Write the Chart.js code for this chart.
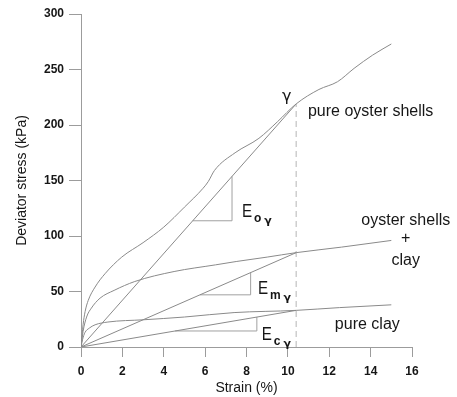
<!DOCTYPE html>
<html>
<head>
<meta charset="utf-8">
<script src="https://cdn.jsdelivr.net/npm/chart.js@4.4.0/dist/chart.umd.min.js"></script>
<style>
  html, body { margin: 0; padding: 0; background: #fff; }
</style>
</head>
<body>
<canvas id="stressChart" width="457" height="397"></canvas>
<script>
// strain (%) vs deviator stress (kPa) for the three samples
const oysterStrain = [0, 0.1, 0.2, 0.35, 0.68, 1.16, 1.97, 3, 4, 5, 5.9, 6.15, 6.45, 7.45, 8.6, 9.5, 10.4, 11.5, 12.4, 13.2, 14.1, 15];
const oysterStress = [0, 20, 32, 42, 54, 66, 81, 94, 108, 126, 143, 149, 159, 175, 188, 203, 219, 232, 239, 251, 263, 273];

const mixStrain = [0, 0.1, 0.27, 0.5, 0.92, 1.6, 2.6, 4.5, 6.5, 7.5, 9, 10.4, 12.6, 15];
const mixStress = [0, 14, 27, 35, 44, 51, 59, 68, 74, 77, 81, 85, 90, 96];

const clayStrain = [0, 0.08, 0.19, 0.4, 0.68, 1.3, 3, 5, 7.4, 10.4, 12.5, 15];
const clayStress = [0, 7, 13, 17, 20, 22.5, 24.5, 27, 31, 33, 35.5, 38];

// reference strain gamma and the stress each sample reaches there
const gammaStrain = 10.4;
const gammaStress = [219, 85, 33]; // oyster, mix, clay

// strain span of each slope triangle (oyster, mix, clay)
const triangleFrom = [5.4, 5.75, 4.55];
const triangleTo = [7.3, 8.2, 8.5];

const xTickStep = 2;
const yTickStep = 50;

const lineGrey = '#8a8a8a';
const axisGrey = '#9c9c9c';
const textColor = '#161616';
const fontFamily = '"Liberation Sans", Arial, sans-serif';
const greekFamily = '"DejaVu Sans", sans-serif';

function toPoints(xs, ys) {
    return xs.map((x, i) => ({ x: x, y: ys[i] }));
}

function curve(xs, ys) {
    return {
        data: toPoints(xs, ys),
        borderColor: lineGrey,
        borderWidth: 1,
        pointRadius: 0,
        cubicInterpolationMode: 'monotone',
        fill: false
    };
}

function straight(points, color, dash) {
    return {
        data: points,
        borderColor: color || lineGrey,
        borderWidth: 1,
        borderDash: dash || [],
        pointRadius: 0,
        tension: 0,
        fill: false
    };
}

const datasets = [
    curve(oysterStrain, oysterStress),
    curve(mixStrain, mixStress),
    curve(clayStrain, clayStress)
];

// secant lines from the origin to gamma, with their slope triangles
gammaStress.forEach((g, i) => {
    const slope = g / gammaStrain;
    datasets.push(straight([{ x: 0, y: 0 }, { x: gammaStrain, y: g }]));
    datasets.push(straight([
        { x: triangleFrom[i], y: slope * triangleFrom[i] },
        { x: triangleTo[i], y: slope * triangleFrom[i] },
        { x: triangleTo[i], y: slope * triangleTo[i] }
    ], '#a0a0a0'));
});

// dashed marker at gamma
datasets.push(straight([{ x: gammaStrain, y: 0 }, { x: gammaStrain, y: gammaStress[0] }], '#b5b5b5', [6, 4]));

// text notes placed in data units
const notes = [
    { text: 'γ', x: 9.95, y: 225, align: 'center', greek: true },
    { text: 'pure oyster shells', x: 10.97, y: 212, align: 'left' },
    { text: 'oyster shells', x: 15.7, y: 114, align: 'center' },
    { text: '+', x: 15.7, y: 98, align: 'center' },
    { text: 'clay', x: 15.7, y: 78, align: 'center' },
    { text: 'pure clay', x: 13.84, y: 20, align: 'center' }
];
const moduli = [
    { sub: 'o', x: 7.78, y: 123 },
    { sub: 'm', x: 8.55, y: 54 },
    { sub: 'c', x: 8.74, y: 12.6 }
];

const notesPlugin = {
    id: 'notes',
    afterDatasetsDraw(chart) {
        const ctx = chart.ctx;
        const xs = chart.scales.x;
        const ys = chart.scales.y;
        ctx.save();
        ctx.fillStyle = textColor;
        ctx.textBaseline = 'middle';
        notes.forEach(n => {
            ctx.font = n.greek ? '16px ' + greekFamily : '16px ' + fontFamily;
            ctx.textAlign = n.align;
            ctx.fillText(n.text, xs.getPixelForValue(n.x), ys.getPixelForValue(n.y));
        });

        moduli.forEach(m => {
            const px = xs.getPixelForValue(m.x);
            const py = ys.getPixelForValue(m.y);
            ctx.textAlign = 'left';
            ctx.textBaseline = 'alphabetic';
            ctx.save();
            ctx.translate(px, py + 7);
            ctx.scale(0.8, 1);
            ctx.font = '19px ' + fontFamily;
            ctx.fillText('E', 0, 0);
            ctx.restore();
            ctx.font = 'bold 12px ' + fontFamily;
            ctx.fillText(m.sub, px + 12, py + 12);
            const w = ctx.measureText(m.sub).width;
            ctx.font = 'bold 11px ' + greekFamily;
            ctx.fillText('γ', px + 15 + w, py + 14);
        });
        ctx.restore();
    }
};

new Chart(document.getElementById('stressChart'), {
    type: 'line',
    data: { datasets: datasets },
    options: {
        responsive: false,
        animation: false,
        layout: { padding: { top: 14, right: 45, left: 0, bottom: 0 } },
        plugins: {
            legend: { display: false },
            tooltip: { enabled: false }
        },
        scales: {
            x: {
                type: 'linear',
                min: 0,
                max: 16,
                afterFit: scale => { scale.height = 50; },
                ticks: {
                    stepSize: xTickStep,
                    padding: 7,
                    color: textColor,
                    font: { family: fontFamily, size: 12, weight: 'bold' }
                },
                grid: { drawOnChartArea: false, tickLength: 10, color: axisGrey },
                border: { color: axisGrey },
                title: {
                    display: true,
                    text: 'Strain (%)',
                    color: textColor,
                    padding: { top: 0, bottom: 0 },
                    font: { family: fontFamily, size: 14 }
                }
            },
            y: {
                min: 0,
                max: 300,
                afterFit: scale => { scale.width = 81; },
                ticks: {
                    stepSize: yTickStep,
                    padding: 5,
                    color: textColor,
                    font: { family: fontFamily, size: 12, weight: 'bold' }
                },
                grid: { drawOnChartArea: false, tickLength: 12, color: axisGrey },
                border: { color: axisGrey },
                title: {
                    display: true,
                    text: 'Deviator stress (kPa)',
                    color: textColor,
                    padding: { top: 14, bottom: 0 },
                    font: { family: fontFamily, size: 14 }
                }
            }
        }
    },
    plugins: [notesPlugin]
});
</script>
</body>
</html>
